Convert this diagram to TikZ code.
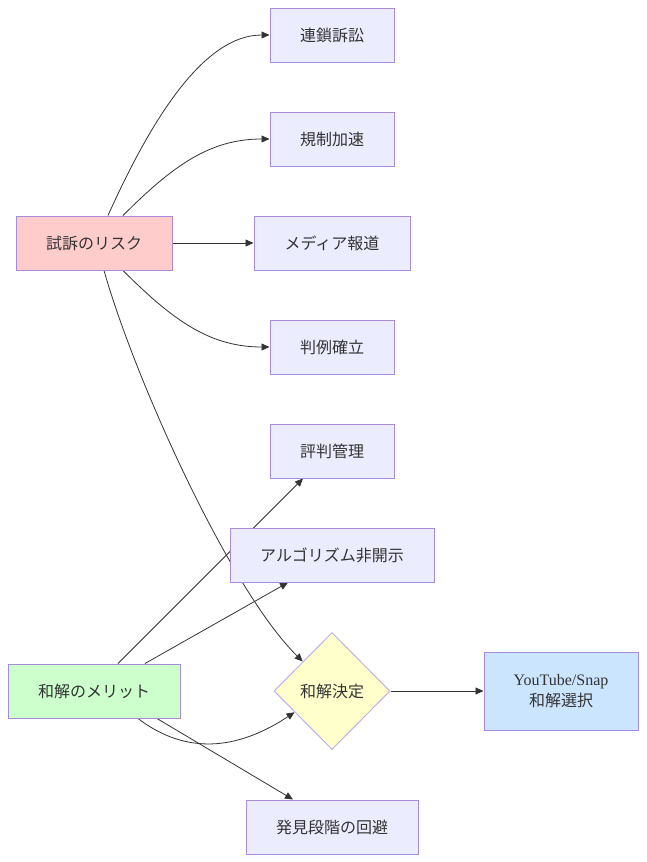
\documentclass[tikz,border=0pt]{standalone}
\usepackage{fontspec}
\setmainfont{Liberation Serif}
\newfontfamily\cjk{Noto Sans CJK JP}
\usetikzlibrary{shapes.geometric,arrows.meta,backgrounds,calc}
\definecolor{txt}{HTML}{333333}
\definecolor{bd}{HTML}{A88BDF}
\definecolor{defill}{HTML}{ECECFF}
\definecolor{redfill}{HTML}{FFCCCC}
\definecolor{greenfill}{HTML}{CCFFCC}
\definecolor{yelfill}{HTML}{FFFFCC}
\definecolor{bluefill}{HTML}{CCE5FF}
\tikzset{
  box/.style={draw=bd, line width=1pt, fill=defill, minimum height=54pt, inner sep=0pt, text=txt, font=\cjk\fontsize{16}{19.5}\selectfont, align=center},
  dec/.style={diamond, aspect=1, draw=bd!70, line width=1pt, fill=yelfill, minimum width=116pt, minimum height=117pt, inner sep=0pt, text=txt, font=\cjk\fontsize{16}{19.5}\selectfont},
  edge/.style={draw=txt, line width=0.8pt, -{Triangle[length=8pt,width=7pt]}}
}
\begin{document}
\begin{tikzpicture}[x=1pt,y=-1pt]
\useasboundingbox (0,0) rectangle (647,862);
\node[box, fill=redfill, minimum width=156pt] (risk) at (94,243) {試訴のリスク};
\node[box, minimum width=124pt] (c1) at (332,35) {連鎖訴訟};
\node[box, minimum width=124pt] (c2) at (332,139) {規制加速};
\node[box, minimum width=156pt] (c3) at (332,243) {メディア報道};
\node[box, minimum width=124pt] (c4) at (332,347) {判例確立};
\node[box, minimum width=124pt] (m1) at (332,451) {評判管理};
\node[box, minimum width=204pt] (m2) at (332,555) {アルゴリズム非開示};
\node[dec] (d) at (332,691) {和解決定};
\node[box, fill=bluefill, minimum width=154pt, minimum height=78pt] (yt) at (561,691) {{\rmfamily YouTube/Snap}\\[2pt]和解選択};
\node[box, fill=greenfill, minimum width=172pt] (merit) at (94,691) {和解のメリット};
\node[box, minimum width=172pt] (m3) at (332,827) {発見段階の回避};
\begin{pgfonlayer}{background}
\fill[white] (0,0) rectangle (647,862);
\draw[edge] ([xshift=14pt]risk.north) .. controls +(45,-100) and (205,35) .. (c1.west);
\draw[edge] ([xshift=29pt]risk.north) .. controls +(50,-50) and (210,139) .. (c2.west);
\draw[edge] (risk.east) -- (c3.west);
\draw[edge] ([xshift=29pt]risk.south) .. controls +(50,50) and (210,347) .. (c4.west);
\draw[edge] ([xshift=10pt]risk.south) .. controls (135,380) and (230,590) .. (d.north west);
\draw[edge] ([xshift=24pt]merit.north) -- ([xshift=-29pt]m1.south);
\draw[edge] ([xshift=51pt]merit.north) -- ([xshift=-44pt]m2.south);
\draw[edge] ([xshift=44pt]merit.south) .. controls +(42,32) and (230,755) .. ($(d.west)!0.36!(d.south)$);
\draw[edge] ([xshift=63pt]merit.south) -- ([xshift=-39pt]m3.north);
\draw[edge] (d.east) -- (yt.west);
\end{pgfonlayer}
\end{tikzpicture}
\end{document}
